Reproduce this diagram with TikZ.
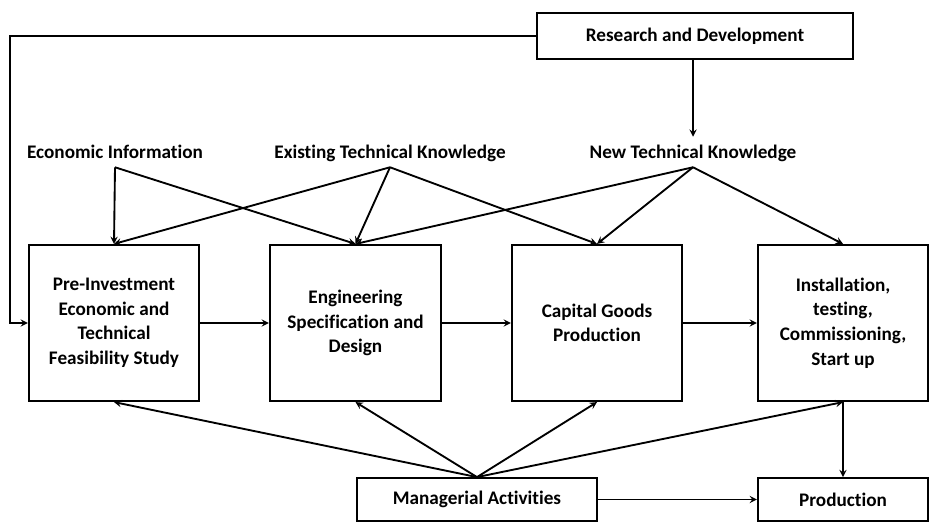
\documentclass[tikz,border=0pt]{standalone}
\usepackage{fontspec}
\setmainfont[Ligatures=CommonOff]{Carlito}
\usepackage{tikz}

\tikzset{
    stage/.style={draw, line width=1.6pt, minimum width=127.5pt, minimum height=117pt, align=center, inner sep=2pt},
    flat/.style={draw, line width=1.6pt, minimum height=32pt, align=center},
    source/.style={inner sep=0pt, text height=15.75pt, text depth=6.75pt},
    link/.style={->, line width=1.4pt}
}

\begin{document}
\begin{tikzpicture}[x=0.75pt, y=-0.75pt, >=stealth, font=\fontsize{14.4}{18.4}\selectfont\bfseries]
    \useasboundingbox (0,0) rectangle (930,525);

    % Research box and knowledge sources
    \node[flat, minimum width=237pt, minimum height=35pt] (rd) at (695,36) {Research and Development};
    \node[source] (econ) at (115,152) {Economic Information};
    \node[source] (exist) at (390,152) {Existing Technical Knowledge};
    \node[source] (newk) at (693,152) {New Technical Knowledge};

    % Main stages
    \node[stage] (pre) at (114,323) {Pre-Investment\\Economic and\\Technical\\Feasibility Study};
    \node[stage, minimum width=128.25pt] (eng) at (355.5,323) {Engineering\\Specification and\\Design};
    \node[stage] (cap) at (597,323) {Capital Goods\\Production};
    \node[stage] (inst) at (843,323) {Installation,\\testing,\\Commissioning,\\Start up};

    % Bottom row
    \node[flat, minimum width=180pt] (mgr) at (477,499.5) {Managerial Activities};
    \node[flat, minimum width=127.5pt] (prod) at (843,499.5) {Production};

    % Flow along the row
    \draw[link] (pre) -- (eng);
    \draw[link] (eng) -- (cap);
    \draw[link] (cap) -- (inst);
    \draw[link] (inst) -- (prod);
    \draw[link] (mgr) -- (prod);

    % Research feeds
    \draw[link] (rd.west) -| (10,323) -- (pre.west);
    \draw[link] (rd.south -| newk.south) -- (newk.north);

    % Knowledge inputs
    \draw[link] (econ.south) -- (pre.north);
    \draw[link] (econ.south) -- (eng.north);
    \draw[link] (exist.south) -- (pre.north);
    \draw[link] (exist.south) -- (eng.north);
    \draw[link] (exist.south) -- (cap.north);
    \draw[link] (newk.south) -- (eng.north);
    \draw[link] (newk.south) -- (cap.north);
    \draw[link] (newk.south) -- (inst.north);

    % Management
    \foreach \target in {pre, eng, cap, inst}
        \draw[link] (mgr.north) -- (\target.south);
\end{tikzpicture}
\end{document}
